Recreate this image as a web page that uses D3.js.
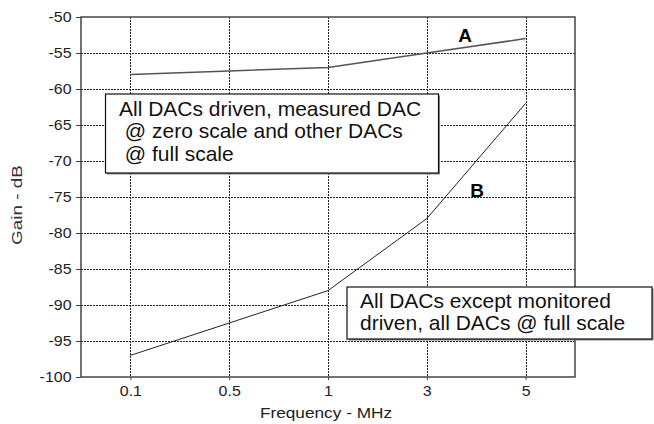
<!DOCTYPE html>
<html>
<head>
<meta charset="utf-8">
<script src="https://cdn.jsdelivr.net/npm/d3@7"></script>
<style>
  html, body { margin: 0; padding: 0; background: #fff; }
  svg { display: block; font-family: "Liberation Sans", Arial, sans-serif; }
</style>
</head>
<body>
<script>
// frequency points (MHz), shown evenly spaced
var freqs = ["0.1", "0.5", "1", "3", "5"];
// gain in dB
var curveA = [-58, -57.5, -57, -55, -53];
var curveB = [-97, -92.5, -88, -78, -62];
var yTicks = [-50, -55, -60, -65, -70, -75, -80, -85, -90, -95, -100];

var W = 654, H = 424;
var margin = {top: 17, left: 81};
var w = 494, h = 360;

var svg = d3.select("body").append("svg")
  .attr("width", W)
  .attr("height", H);

var g = svg.append("g")
  .attr("transform", "translate(" + margin.left + "," + margin.top + ")");

var x = d3.scalePoint().domain(freqs).range([0, w]).padding(0.5);
var y = d3.scaleLinear().domain([-100, -50]).range([h, 0]);

// dotted grid
g.selectAll(".hgrid")
  .data(yTicks.filter(function(d) { return d > -100 && d < -50; }))
  .enter().append("line")
  .attr("x1", 0).attr("x2", w)
  .attr("y1", function(d) { return Math.round(y(d)) + 0.5; })
  .attr("y2", function(d) { return Math.round(y(d)) + 0.5; })
  .attr("stroke", "#222")
  .attr("stroke-dasharray", "2,1")
  .attr("shape-rendering", "crispEdges");

g.selectAll(".vgrid")
  .data(freqs)
  .enter().append("line")
  .attr("y1", 0).attr("y2", h)
  .attr("x1", function(d) { return Math.round(x(d)) + 0.5; })
  .attr("x2", function(d) { return Math.round(x(d)) + 0.5; })
  .attr("stroke", "#222")
  .attr("stroke-dasharray", "2,1")
  .attr("shape-rendering", "crispEdges");

// axes
var sx = 1.14;
var yAxis = g.append("g")
  .call(d3.axisLeft(y).tickValues(yTicks).tickSize(5).tickPadding(4)
    .tickFormat(function(d) { return String(d); }));
yAxis.select(".domain").remove();
yAxis.selectAll("line").attr("stroke", "#444");
yAxis.selectAll("text")
  .attr("font-size", 14)
  .attr("fill", "#222")
  .attr("x", -9.5 / sx)
  .attr("transform", "scale(" + sx + ",1)")
  .attr("font-family", "Liberation Sans, Arial, sans-serif");

var xAxis = g.append("g")
  .attr("transform", "translate(0," + h + ")")
  .call(d3.axisBottom(x).tickSize(3).tickPadding(6));
xAxis.select(".domain").remove();
xAxis.selectAll("line").attr("stroke", "#444");
xAxis.selectAll("text")
  .attr("font-size", 14)
  .attr("fill", "#222")
  .attr("transform", "scale(" + sx + ",1)")
  .attr("font-family", "Liberation Sans, Arial, sans-serif");

// frame
g.append("rect")
  .attr("x", 0).attr("y", 0)
  .attr("width", w).attr("height", h)
  .attr("fill", "none")
  .attr("stroke", "#444")
  .attr("stroke-width", 1.5);

// curves
var line = d3.line()
  .x(function(d, i) { return x(freqs[i]); })
  .y(function(d) { return y(d); });

g.append("path")
  .datum(curveA)
  .attr("d", line)
  .attr("fill", "none")
  .attr("stroke", "#555")
  .attr("stroke-width", 1.5);

g.append("path")
  .datum(curveB)
  .attr("d", line)
  .attr("fill", "none")
  .attr("stroke", "#222")
  .attr("stroke-width", 1);

// curve labels
svg.append("text")
  .attr("x", 465).attr("y", 42)
  .attr("text-anchor", "middle")
  .attr("font-size", 19).attr("font-weight", "bold")
  .text("A");
svg.append("text")
  .attr("x", 477).attr("y", 197)
  .attr("text-anchor", "middle")
  .attr("font-size", 19).attr("font-weight", "bold")
  .text("B");

// note boxes
function noteBox(bx, by, bw, bh, tx, ty, lines) {
  svg.append("rect")
    .attr("x", bx + 1.5).attr("y", by + 1.5)
    .attr("width", bw).attr("height", bh)
    .attr("fill", "#888");
  svg.append("rect")
    .attr("x", bx).attr("y", by)
    .attr("width", bw).attr("height", bh)
    .attr("fill", "#fff")
    .attr("stroke", "#111")
    .attr("stroke-width", 1.2);
  var t = svg.append("text")
    .attr("font-size", 20)
    .attr("fill", "#111")
    .attr("transform", "translate(" + tx + "," + ty + ") scale(1.05,1)");
  t.selectAll("tspan")
    .data(lines)
    .enter().append("tspan")
    .attr("x", 0)
    .attr("y", function(d, i) { return i * 22.5; })
    .attr("xml:space", "preserve")
    .text(function(d) { return d; });
}

noteBox(105.5, 94, 333, 79, 119, 116,
  ["All DACs driven, measured DAC", " @ zero scale and other DACs", " @ full scale"]);
noteBox(347, 287, 305, 52, 360, 308,
  ["All DACs except monitored", "driven, all DACs @ full scale"]);

// axis titles
svg.append("text")
  .attr("transform", "translate(" + (margin.left + w / 2 - 2) + ",418) scale(1.15,1)")
  .attr("text-anchor", "middle")
  .attr("font-size", 15)
  .attr("fill", "#222")
  .text("Frequency - MHz");

svg.append("text")
  .attr("transform", "translate(22,205) rotate(-90) scale(1.35,1)")
  .attr("text-anchor", "middle")
  .attr("font-size", 14)
  .attr("fill", "#333")
  .text("Gain - dB");
</script>
</body>
</html>
